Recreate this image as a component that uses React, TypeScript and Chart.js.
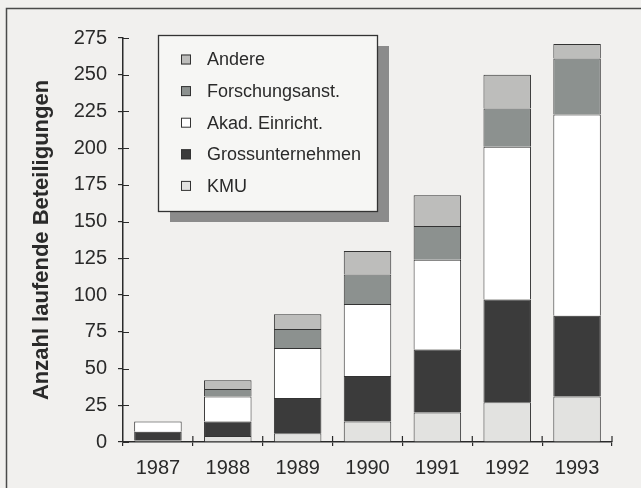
import React, { useEffect, useRef } from "react";
import { Chart, registerables } from "chart.js";

Chart.register(...registerables);

const years = ["1987", "1988", "1989", "1990", "1991", "1992", "1993"];
const kmu = [1, 4, 6, 14, 20, 27, 31];
const grossunternehmen = [6, 10, 24, 31, 43, 70, 55];
const akadEinricht = [7, 17, 34, 49, 61, 104, 137];
const forschungsanst = [0, 5, 13, 20, 23, 26, 38];
const andere = [0, 6, 10, 16, 21, 23, 10];

const yMin = 0;
const yMax = 275;
const yStep = 25;

const PAPER = "#f1f0ee";
const INK = "#2a2a2a";
const FONT = "'Liberation Sans', Arial, Helvetica, sans-serif";

const framePlugin = {
  id: "frameAndLegend",
  beforeDraw(chart: any) {
    const { ctx, width, height } = chart;
    ctx.save();
    ctx.fillStyle = PAPER;
    ctx.fillRect(0, 0, width, height);
    ctx.strokeStyle = "#4a4a4a";
    ctx.lineWidth = 1.5;
    ctx.beginPath();
    ctx.moveTo(6.5, height + 5);
    ctx.lineTo(6.5, 8.5);
    ctx.lineTo(width + 5, 8.5);
    ctx.stroke();
    ctx.restore();
  },
  afterDraw(chart: any) {
    const { ctx, chartArea, scales } = chart;
    const ys = scales.y;
    const xs = scales.x;
    ctx.save();
    ctx.strokeStyle = INK;
    ctx.lineWidth = 1.2;
    ctx.beginPath();
    ys.ticks.forEach((_t: any, i: number) => {
      const py = Math.round(ys.getPixelForTick(i)) + 0.5;
      ctx.moveTo(chartArea.left, py);
      ctx.lineTo(chartArea.left + 6, py);
    });
    const n = xs.ticks.length;
    for (let i = 1; i <= n; i++) {
      const px = xs.left + (xs.width * i) / n;
      ctx.moveTo(px, chartArea.bottom - 6);
      ctx.lineTo(px, chartArea.bottom);
    }
    ctx.stroke();

    // legend box with shadow
    const bx = 158, by = 35, bw = 219, bh = 176;
    ctx.fillStyle = "#8b8b8b";
    ctx.fillRect(bx + 12, by + 11, bw, bh);
    ctx.fillStyle = "#f6f6f4";
    ctx.fillRect(bx, by, bw, bh);
    ctx.strokeStyle = "#333";
    ctx.lineWidth = 1.3;
    ctx.strokeRect(bx + 0.5, by + 0.5, bw, bh);

    const ds = [...chart.data.datasets].reverse();
    ctx.font = `18px ${FONT}`;
    ctx.textBaseline = "middle";
    ctx.textAlign = "left";
    ds.forEach((d: any, i: number) => {
      const cy = 59.5 + i * 31.6;
      ctx.fillStyle = d.backgroundColor;
      ctx.fillRect(181, cy - 5, 10, 10);
      ctx.strokeStyle = "#333";
      ctx.lineWidth = 1;
      ctx.strokeRect(181.5, cy - 4.5, 9, 9);
      ctx.fillStyle = INK;
      ctx.fillText(d.label, 207, cy + 1);
    });
    ctx.restore();
  },
};

export default function App() {
  const ref = useRef<HTMLCanvasElement | null>(null);

  useEffect(() => {
    if (!ref.current) return;
    const mk = (label: string, data: number[], color: string) => ({
      label,
      data,
      backgroundColor: color,
      borderColor: "#333333",
      borderWidth: 1,
      categoryPercentage: 1,
      barPercentage: 0.68,
    });
    const chart = new Chart(ref.current, {
      type: "bar",
      data: {
        labels: years,
        datasets: [
          mk("KMU", kmu, "#e2e2e0"),
          mk("Grossunternehmen", grossunternehmen, "#3b3b3b"),
          mk("Akad. Einricht.", akadEinricht, "#ffffff"),
          mk("Forschungsanst.", forschungsanst, "#8c918f"),
          mk("Andere", andere, "#bdbdbb"),
        ],
      },
      options: {
        responsive: false,
        animation: false,
        layout: { padding: { left: 0, top: 38, right: 29, bottom: 0 } },
        plugins: {
          legend: { display: false },
          tooltip: { enabled: false },
        },
        scales: {
          x: {
            stacked: true,
            offset: true,
            grid: {
              display: true,
              offset: true,
              drawOnChartArea: false,
              drawTicks: true,
              tickLength: 4,
              color: INK,
              lineWidth: 1.2,
            },
            border: { display: true, color: INK, width: 1.5 },
            ticks: { color: INK, font: { family: FONT, size: 20 }, padding: 10, maxRotation: 0 },
            afterFit: (s: any) => {
              s.height = 46;
            },
          },
          y: {
            stacked: true,
            min: yMin,
            max: yMax,
            grid: {
              display: true,
              drawOnChartArea: false,
              drawTicks: true,
              tickLength: 5,
              color: INK,
              lineWidth: 1.2,
            },
            border: { display: true, color: INK, width: 1.5 },
            ticks: {
              stepSize: yStep,
              color: INK,
              font: { family: FONT, size: 20 },
              padding: 11,
            },
            title: {
              display: true,
              text: "Anzahl laufende Beteiligungen",
              color: INK,
              font: { family: FONT, size: 22, weight: "bold" },
              padding: { top: 29, bottom: 0 },
            },
            afterFit: (s: any) => {
              s.width = 123;
            },
          },
        },
      },
      plugins: [framePlugin],
    });
    return () => chart.destroy();
  }, []);

  return (
    <div style={{ position: "fixed", left: 0, top: 0, width: 641, height: 488, background: PAPER }}>
      <canvas ref={ref} width={641} height={488} style={{ display: "block" }} />
    </div>
  );
}
